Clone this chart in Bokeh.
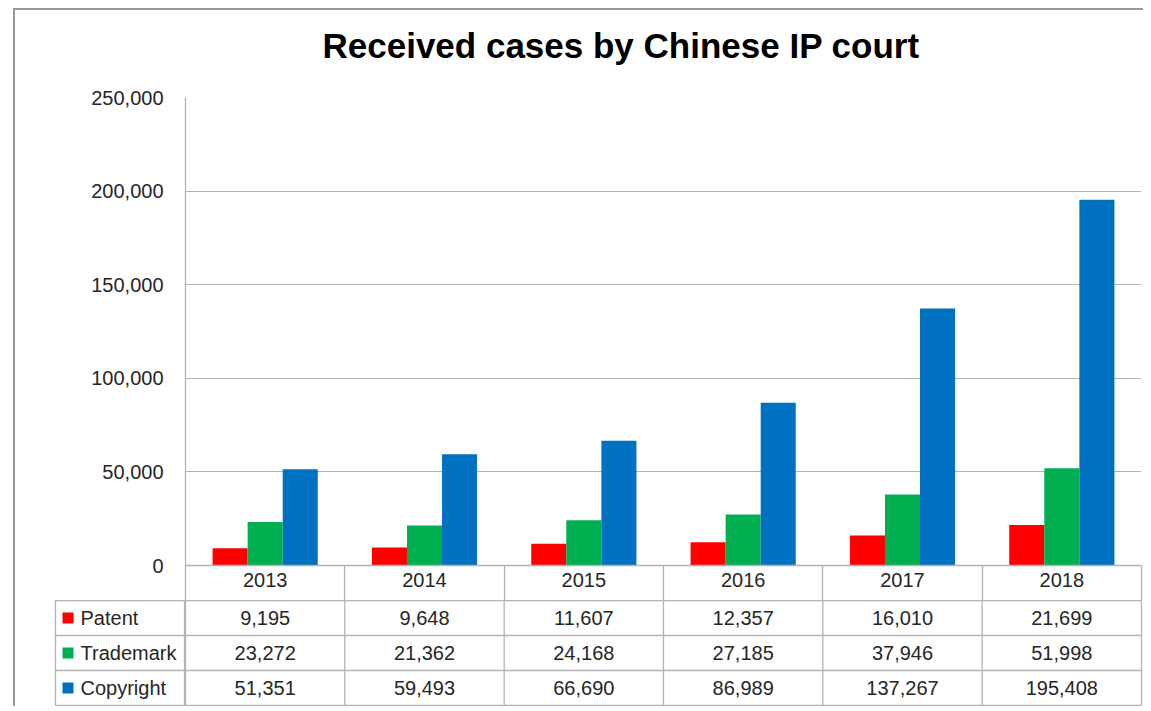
from bokeh.plotting import figure
from bokeh.models import ColumnDataSource, Range1d, FixedTicker, NumeralTickFormatter, Title
from bokeh.layouts import column, row
from bokeh.transform import dodge
from bokeh.embed import file_html
from bokeh.resources import INLINE
from bokeh.core.properties import value

# ---- data ----
years = ["2013", "2014", "2015", "2016", "2017", "2018"]
series = ["Patent", "Trademark", "Copyright"]
patent = [9195, 9648, 11607, 12357, 16010, 21699]
trademark = [23272, 21362, 24168, 27185, 37946, 51998]
copyright_ = [51351, 59493, 66690, 86989, 137267, 195408]
y_ticks = [0, 50000, 100000, 150000, 200000, 250000]
title_text = "Received   cases by  Chinese IP court"

# ---- style ----
colors = ["#FF0000", "#00B050", "#0070C0"]
grid_col = "#B3B3B3"
txt_col = "#262626"
font = "Liberation Sans"
fs = "20px"
bar_w = 0.22
offsets = [-0.22, 0.0, 0.22]
lw = 1.3

values = {"Patent": patent, "Trademark": trademark, "Copyright": copyright_}
idx = list(range(len(years)))
src = ColumnDataSource(dict(idx=idx, Patent=patent, Trademark=trademark, Copyright=copyright_))
bounds = [i - 0.5 for i in range(len(years) + 1)]

# ---- chart (with year header row as its x axis) ----
p1 = figure(width=1128, height=590, x_range=Range1d(-0.5, len(years) - 0.5), y_range=Range1d(0, 250000),
            output_backend="svg", toolbar_location=None,
            min_border_left=170, min_border_right=2, min_border_top=87, min_border_bottom=35,
            title=None)
for i, s in enumerate(series):
    p1.vbar(x=dodge("idx", offsets[i]), top=s, width=bar_w, source=src,
            fill_color=colors[i], line_color=None)
p1.yaxis.ticker = FixedTicker(ticks=y_ticks)
p1.yaxis.formatter = NumeralTickFormatter(format="0,0")
p1.yaxis.axis_line_color = grid_col
p1.yaxis.axis_line_width = lw
p1.yaxis.major_tick_line_color = None
p1.yaxis.minor_tick_line_color = None
p1.yaxis.major_tick_out = 0
p1.yaxis.major_label_standoff = 22
p1.yaxis.major_label_text_font = font
p1.yaxis.major_label_text_font_size = fs
p1.yaxis.major_label_text_color = txt_col

p1.xaxis.ticker = FixedTicker(ticks=idx, minor_ticks=bounds)
p1.xaxis.major_label_overrides = {i: y for i, y in zip(idx, years)}
p1.xaxis.axis_line_color = grid_col
p1.xaxis.axis_line_width = lw
p1.xaxis.major_tick_line_color = None
p1.xaxis.major_tick_out = 0
p1.xaxis.major_tick_in = 0
p1.xaxis.minor_tick_line_color = grid_col
p1.xaxis.minor_tick_line_width = lw
p1.xaxis.minor_tick_out = 35
p1.xaxis.minor_tick_in = 0
p1.xaxis.major_label_standoff = -28
p1.xaxis.major_label_text_font = font
p1.xaxis.major_label_text_font_size = fs
p1.xaxis.major_label_text_color = txt_col

p1.ygrid.ticker = FixedTicker(ticks=y_ticks)
p1.ygrid.grid_line_color = grid_col
p1.xgrid.visible = False
p1.outline_line_color = None

# spacer between frame and title, then the title itself (outermost)
spacer = Title(text=" ", text_font_size="20px", standoff=0)
main_title = Title(text=title_text, text_font="Liberation Sans", text_font_size="35px",
                   text_font_style="bold", text_color="#000000", align="left",
                   vertical_align="top", offset=137, standoff=14)
p1.add_layout(spacer, "above")
p1.add_layout(main_title, "above")

n_rows = len(series)

# ---- legend column of the data table ----
pl = figure(width=170, height=106, x_range=Range1d(0, 130), y_range=Range1d(0, n_rows),
            output_backend="svg", toolbar_location=None, x_axis_location=None, y_axis_location=None,
            min_border_left=40, min_border_right=0, min_border_top=0, min_border_bottom=1)
pl.grid.visible = False
pl.outline_line_color = grid_col
pl.outline_line_width = lw
ly = [n_rows - 0.5 - k for k in range(n_rows)]
pl.segment(x0=[0] * (n_rows - 1), x1=[130] * (n_rows - 1), y0=list(range(1, n_rows)), y1=list(range(1, n_rows)),
           line_color=grid_col, line_width=lw)
pl.scatter(x=[12.5] * n_rows, y=ly, marker="square", size=11, fill_color=colors, line_color=None)
pl.text(x=[25] * n_rows, y=ly, text=series, text_align="left", text_baseline="middle",
        text_font=value(font), text_font_size=fs, text_color=txt_col)

# ---- value cells of the data table ----
pt = figure(width=958, height=106, x_range=p1.x_range, y_range=Range1d(0, n_rows),
            output_backend="svg", toolbar_location=None, x_axis_location=None, y_axis_location=None,
            min_border_left=0, min_border_right=2, min_border_top=0, min_border_bottom=1)
pt.grid.visible = False
pt.outline_line_color = grid_col
pt.outline_line_width = lw
inner = bounds[1:-1]
pt.segment(x0=inner, x1=inner, y0=[0] * len(inner), y1=[n_rows] * len(inner), line_color=grid_col, line_width=lw)
pt.segment(x0=[-0.5] * (n_rows - 1), x1=[len(years) - 0.5] * (n_rows - 1),
           y0=list(range(1, n_rows)), y1=list(range(1, n_rows)), line_color=grid_col, line_width=lw)
cx, cy, ct = [], [], []
for k, s in enumerate(series):
    for i, v in enumerate(values[s]):
        cx.append(i); cy.append(n_rows - 0.5 - k); ct.append(f"{v:,}")
pt.text(x=cx, y=cy, text=ct, text_align="center", text_baseline="middle",
        text_font=value(font), text_font_size=fs, text_color=txt_col)

layout = column(p1, row(pl, pt, spacing=0), spacing=0,
                styles={"margin-left": "13px", "margin-top": "8px",
                        "border-left": "2px solid #999999", "border-top": "2px solid #999999"})

open("out.html", "w").write(file_html(layout, INLINE))
